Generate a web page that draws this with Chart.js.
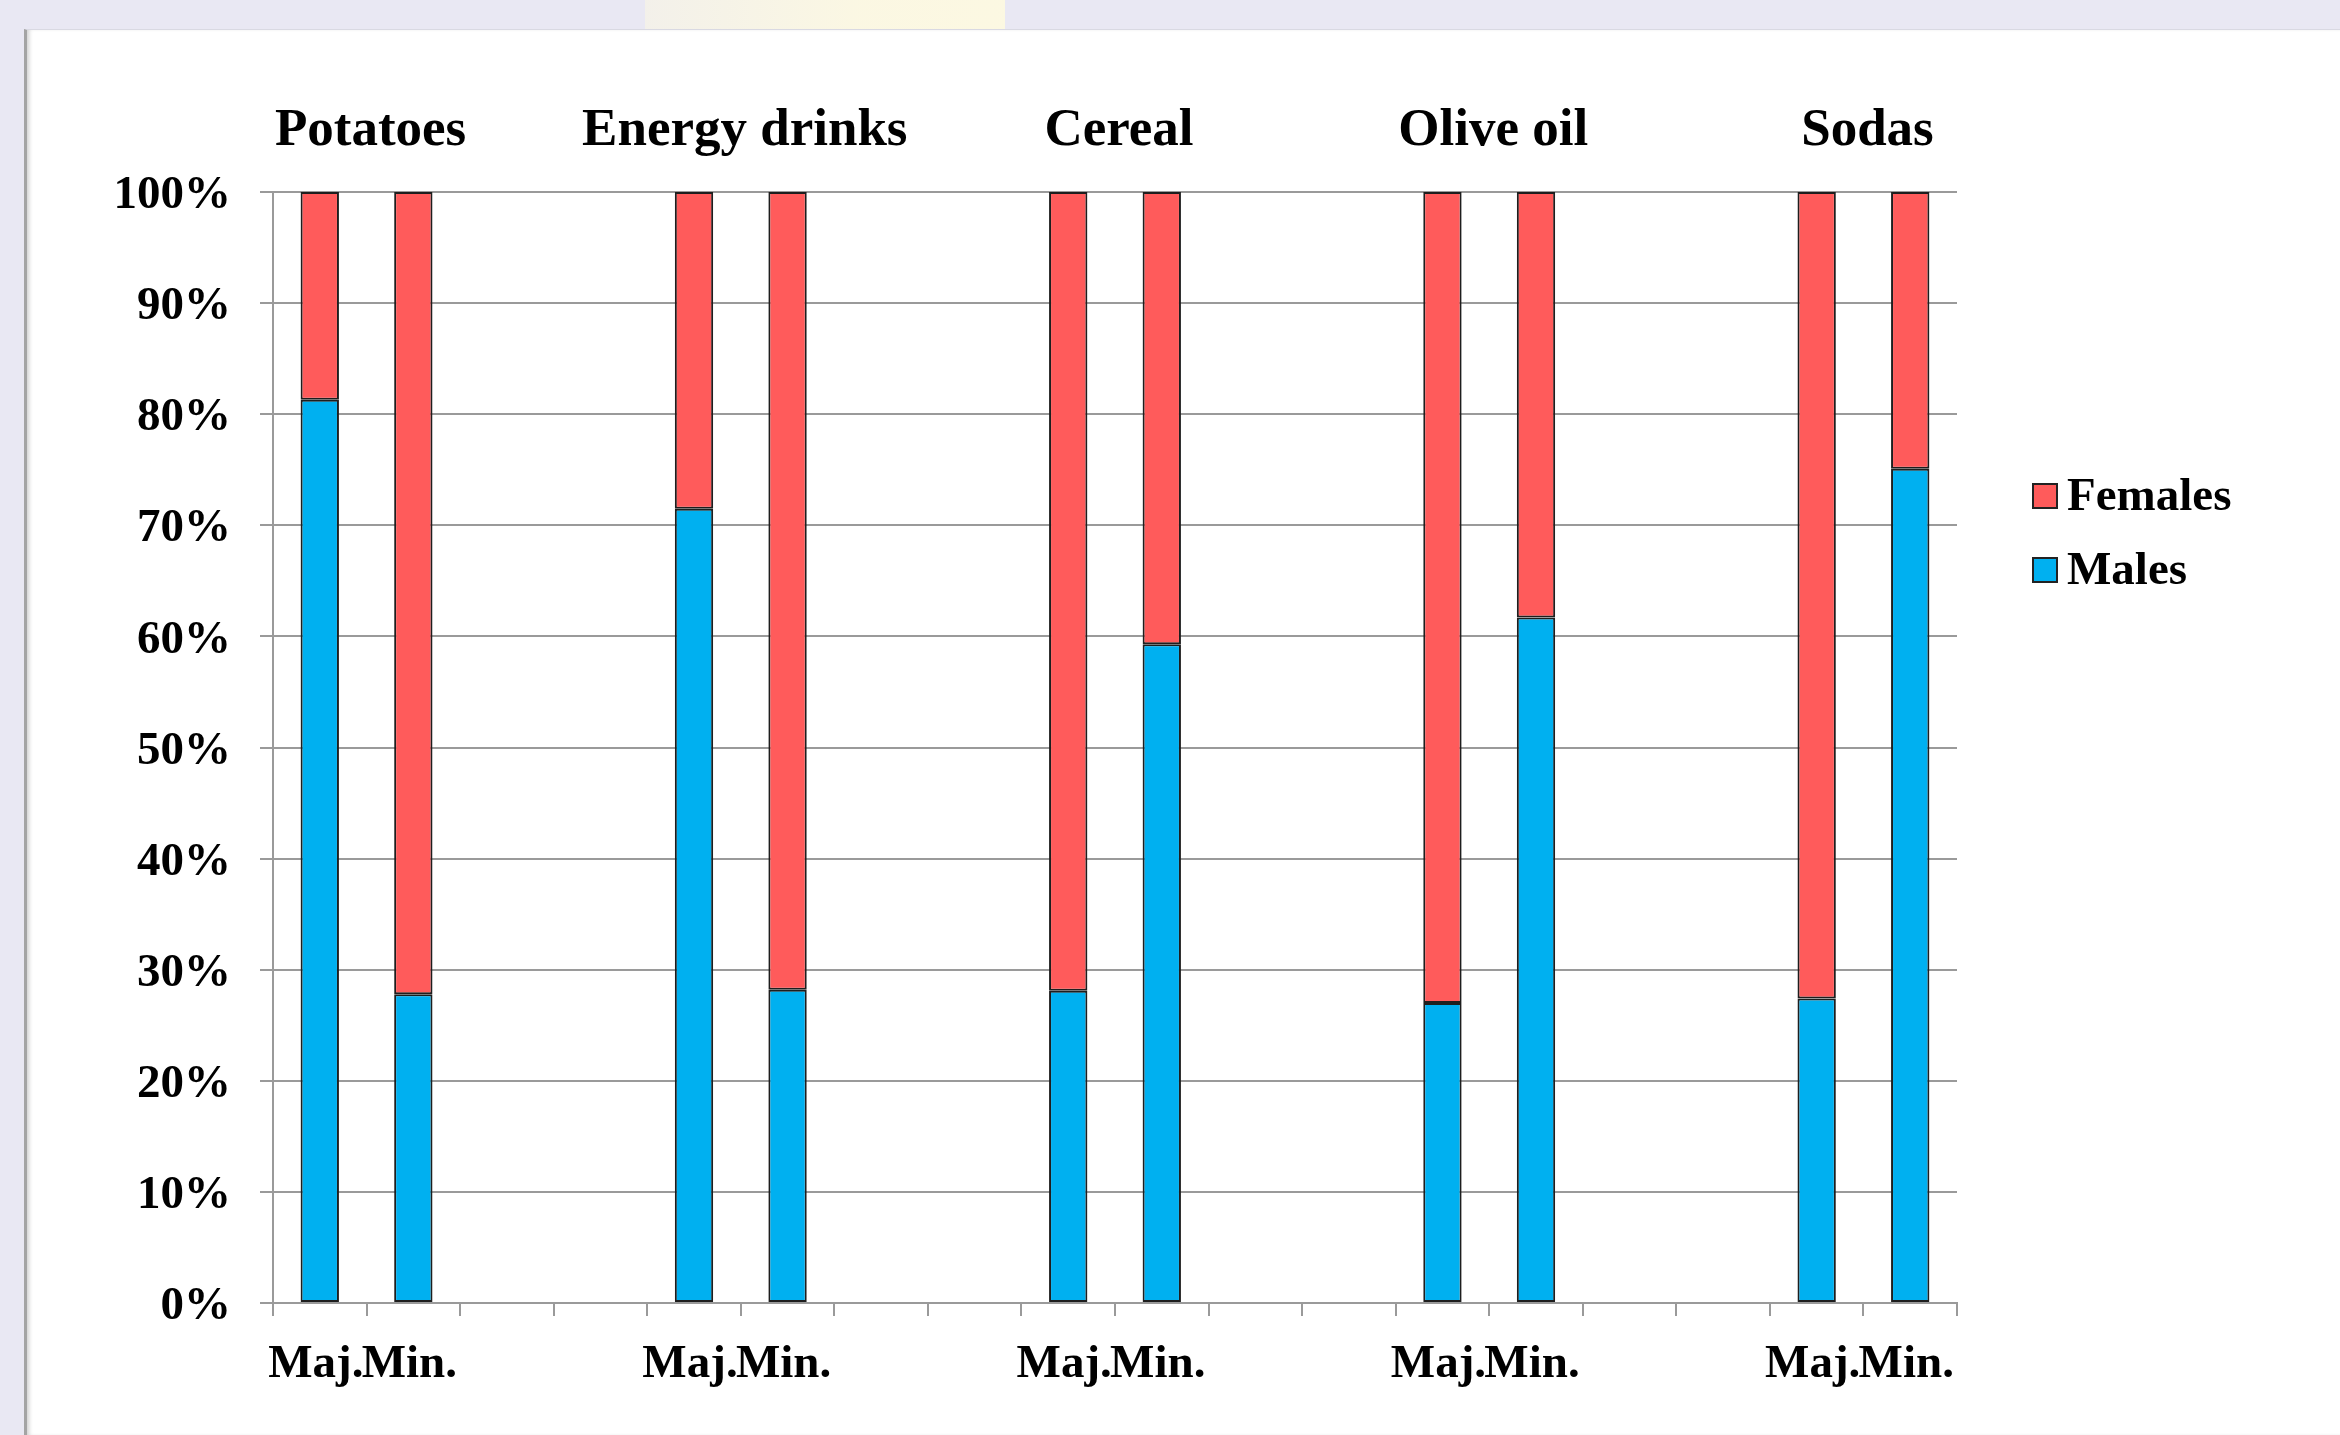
<!DOCTYPE html>
<html>
<head>
<meta charset="utf-8">
<script src="https://cdn.jsdelivr.net/npm/chart.js@4.4.0/dist/chart.umd.min.js"></script>
<style>
  html, body { margin: 0; padding: 0; background: #e9e8f3; overflow: hidden; }
  #glow { position: absolute; left: 645px; top: 0; width: 360px; height: 29px;
          background: linear-gradient(90deg, rgba(253,249,225,0.5), rgba(253,249,225,0.9) 60%, rgba(253,249,225,0.95)); }
  #panel { position: absolute; left: 24px; top: 29px; right: 0; bottom: 0; background: #fff;
           border-top: 1px solid #d9d9e2; border-left: 3px solid #a4a4a4;
           box-shadow: inset 4px 0 4px -2px #cfcfcf; }
  #wrap { position: absolute; left: 0; top: 0; width: 2340px; height: 1435px; }
</style>
</head>
<body>
<div id="glow"></div>
<div id="panel"></div>
<div id="wrap"><canvas id="chart"></canvas></div>
<script>
// products and male share (%) for majority / minority groups
const products = ['Potatoes', 'Energy drinks', 'Cereal', 'Olive oil', 'Sodas'];
const groupLabels = ['Maj.', 'Min.'];
const malesMaj = [81.3, 71.5, 28.1, 27.0, 27.4];
const malesMin = [27.8, 28.2, 59.3, 61.7, 75.1];
const yTicks = [0, 10, 20, 30, 40, 50, 60, 70, 80, 90, 100];

// 18 slots: two bars per product, two empty slots between products
const xLabels = [];
const males = [];
const females = [];
const titles = [];
products.forEach((p, i) => {
    xLabels.push(groupLabels[0], groupLabels[1]);
    males.push(malesMaj[i], malesMin[i]);
    females.push(100 - malesMaj[i], 100 - malesMin[i]);
    titles.push(p);
    if (i < products.length - 1) {
        xLabels.push('', '');
        males.push(null, null);
        females.push(null, null);
        titles.push('');
    }
});

const FONT = 'Liberation Serif';
const gridGrey = '#9a9a9a';

// legend drawn on the right, Females first like the original
const sideLegend = {
    id: 'sideLegend',
    afterDraw(chart) {
        const ctx = chart.ctx;
        const items = chart.data.datasets.slice().reverse();
        ctx.save();
        ctx.font = 'bold 47px "' + FONT + '"';
        ctx.textBaseline = 'middle';
        items.forEach((ds, i) => {
            const y = 496 + i * 74;
            ctx.fillStyle = ds.backgroundColor;
            ctx.fillRect(2033, y - 12, 24, 24);
            ctx.lineWidth = 2;
            ctx.strokeStyle = '#222';
            ctx.strokeRect(2033, y - 12, 24, 24);
            ctx.fillStyle = '#000';
            ctx.fillText(ds.label, 2067, y + 2);
        });
        ctx.restore();
    }
};

new Chart(document.getElementById('chart').getContext('2d'), {
    type: 'bar',
    data: {
        labels: xLabels,
        datasets: [{
            label: 'Males',
            data: males,
            backgroundColor: '#00B0F0',
            borderColor: '#1e1e1e',
            borderWidth: 2,
            borderSkipped: false,
            barPercentage: 0.41,
            categoryPercentage: 1
        }, {
            label: 'Females',
            data: females,
            backgroundColor: '#FF5B5B',
            borderColor: '#1e1e1e',
            borderWidth: 2,
            borderSkipped: false,
            barPercentage: 0.41,
            categoryPercentage: 1
        }]
    },
    options: {
        responsive: true,
        maintainAspectRatio: false,
        animation: false,
        devicePixelRatio: 1,
        layout: { padding: { left: 0, right: 383, top: 0, bottom: 0 } },
        plugins: { legend: { display: false }, tooltip: { enabled: false } },
        scales: {
            x: {
                stacked: true,
                offset: true,
                grid: { offset: true, drawOnChartArea: false, drawTicks: true, tickLength: 13, color: gridGrey, lineWidth: 2 },
                border: { display: true, color: gridGrey, width: 2 },
                ticks: {
                    autoSkip: false, maxRotation: 0, minRotation: 0, padding: 21, labelOffset: -4, color: '#000',
                    font: { family: FONT, size: 47, weight: 'bold' }
                },
                afterFit: s => { s.height = 132; }
            },
            top: {
                type: 'category',
                position: 'top',
                labels: titles,
                offset: true,
                grid: { display: false, drawTicks: false },
                border: { display: false },
                ticks: {
                    autoSkip: false, maxRotation: 0, minRotation: 0, padding: 29, labelOffset: 4, color: '#000',
                    font: { family: FONT, size: 53, weight: 'bold' }
                },
                afterFit: s => { s.height = 192; }
            },
            y: {
                stacked: true,
                min: 0,
                max: 100,
                afterBuildTicks: s => { s.ticks = yTicks.map(v => ({ value: v })); },
                grid: { color: gridGrey, lineWidth: 2, tickLength: 13 },
                border: { display: true, color: gridGrey, width: 2 },
                ticks: {
                    padding: 29, labelOffset: 4, color: '#000',
                    font: { family: FONT, size: 47, weight: 'bold' },
                    callback: v => v + '%'
                },
                afterFit: s => { s.width = 273; }
            }
        }
    },
    plugins: [sideLegend]
});
</script>
</body>
</html>
